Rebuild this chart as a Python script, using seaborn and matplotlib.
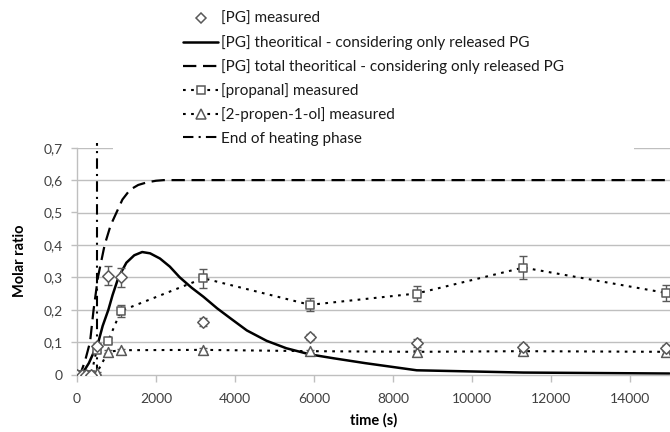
import matplotlib
matplotlib.use("Agg")
import matplotlib.pyplot as plt
from matplotlib.lines import Line2D
from matplotlib.patches import Rectangle
from matplotlib.ticker import FuncFormatter, MultipleLocator
import seaborn as sns
import pandas as pd

sns.set_theme(style="white")
plt.rcParams["font.family"] = ["Lato", "DejaVu Sans"]

# Measured PG (diamonds)
pg_t = [0, 120, 240, 360, 500, 790, 1110, 3200, 5900, 8600, 11300, 14900]
pg_v = [0, 0, 0, 0, 0.088, 0.305, 0.300, 0.163, 0.115, 0.097, 0.085, 0.082]
pg_err = [0.004, 0.004, 0.004, 0.004, 0.008, 0.030, 0.030, 0.012, 0.010, 0.012, 0.010, 0.010]

# Measured propanal (squares)
prop_t = [0, 120, 240, 360, 500, 790, 1110, 3200, 5900, 8600, 11300, 14900]
prop_v = [0, 0, 0, 0, 0.077, 0.104, 0.196, 0.297, 0.215, 0.250, 0.330, 0.252]
prop_err = [0.004, 0.004, 0.004, 0.004, 0.008, 0.008, 0.020, 0.030, 0.020, 0.022, 0.035, 0.025]

# Measured 2-propen-1-ol (triangles)
allyl_t = [0, 120, 240, 360, 500, 790, 1110, 3200, 5900, 8600, 11300, 14900]
allyl_v = [0, 0, 0, 0, 0.005, 0.070, 0.075, 0.076, 0.072, 0.070, 0.072, 0.070]
allyl_err = [0.003, 0.003, 0.003, 0.003, 0.003, 0.005, 0.005, 0.005, 0.005, 0.006, 0.006, 0.006]

# Theoretical PG considering only released PG
theo_t = [0, 120, 300, 540, 650, 795, 900, 1050, 1250, 1450, 1650, 1850, 2100,
          2350, 2600, 2900, 3200, 3550, 3900, 4300, 4800, 5300, 5900, 6500,
          7300, 8600, 11300, 15000]
theo_v = [0, 0, 0.035, 0.10, 0.15, 0.20, 0.245, 0.30, 0.345, 0.368, 0.378,
          0.374, 0.358, 0.333, 0.300, 0.268, 0.240, 0.204, 0.172, 0.136, 0.104,
          0.081, 0.062, 0.050, 0.035, 0.013, 0.006, 0.003]

# Total theoretical PG
total_t = [0, 80, 200, 330, 420, 530, 700, 850, 1000, 1150, 1340, 1550, 1770,
           2000, 2200, 2500, 15000]
total_v = [0, 0, 0.04, 0.10, 0.20, 0.30, 0.40, 0.46, 0.50, 0.54, 0.57, 0.585,
           0.593, 0.598, 0.60, 0.60, 0.60]

# End of heating phase
heat_end_t = 500
heat_line_v = [0, 0.715]

x_ticks = [0, 2000, 4000, 6000, 8000, 10000, 12000, 14000]

labels = [
    "[PG] measured",
    "[PG] theoritical - considering only released PG",
    "[PG] total theoritical - considering only released PG",
    "[propanal] measured",
    "[2-propen-1-ol] measured",
    "End of heating phase",
]

MARK = "#595959"
GRID = "#bfbfbf"
TXT = "#404040"
DOT = (0, (1.3, 2.6))
DASH = (0, (6, 3))
DASHDOT = (0, (5, 2.5, 1, 2.5))

fig = plt.figure(figsize=(6.70, 4.32), dpi=100)
ax = fig.add_axes([77 / 670, (432 - 374.5) / 432, 592.5 / 670, 226.8 / 432])

for yv in [0.1, 0.2, 0.3, 0.4, 0.5, 0.6, 0.7]:
    ax.axhline(yv, color=GRID, lw=1.0, zorder=0)

# Theoretical curves
sns.lineplot(x=total_t, y=total_v, ax=ax, color="black", lw=1.6,
             linestyle=DASH, sort=False, zorder=2)
sns.lineplot(x=theo_t, y=theo_v, ax=ax, color="black", lw=1.8,
             sort=False, zorder=2)

# Vertical marker for the end of heating
ax.plot([heat_end_t, heat_end_t], heat_line_v, color="black", lw=1.5,
        linestyle=DASHDOT, clip_on=False, zorder=2)

# Measured series with error bars
df_prop = pd.DataFrame({"t": prop_t, "v": prop_v})
df_allyl = pd.DataFrame({"t": allyl_t, "v": allyl_v})
df_pg = pd.DataFrame({"t": pg_t, "v": pg_v})

sns.lineplot(data=df_allyl, x="t", y="v", ax=ax, color="black", lw=1.5,
             linestyle=DOT, zorder=3)
sns.lineplot(data=df_prop, x="t", y="v", ax=ax, color="black", lw=1.5,
             linestyle=DOT, zorder=3)

for t, v, e in [(allyl_t, allyl_v, allyl_err), (prop_t, prop_v, prop_err),
                (pg_t, pg_v, pg_err)]:
    ax.errorbar(t, v, yerr=e, fmt="none", ecolor=MARK, elinewidth=1.0,
                capsize=3, capthick=1.0, zorder=4)

sns.scatterplot(data=df_allyl, x="t", y="v", ax=ax, marker="^", s=50,
                facecolor="white", edgecolor=MARK, linewidth=1.1, zorder=5)
sns.scatterplot(data=df_prop, x="t", y="v", ax=ax, marker="s", s=38,
                facecolor="white", edgecolor=MARK, linewidth=1.1, zorder=5)
sns.scatterplot(data=df_pg, x="t", y="v", ax=ax, marker="D", s=34,
                facecolor="white", edgecolor=MARK, linewidth=1.1, zorder=6)

ax.set_xlim(0, 15000)
ax.set_ylim(0, 0.7)
ax.set_xticks(x_ticks)
ax.yaxis.set_major_locator(MultipleLocator(0.1))
ax.yaxis.set_major_formatter(
    FuncFormatter(lambda v, p: "0" if abs(v) < 1e-9 else f"{v:.1f}".replace(".", ",")))

for s in ["top", "right"]:
    ax.spines[s].set_visible(False)
for s in ["left", "bottom"]:
    ax.spines[s].set_color(GRID)
    ax.spines[s].set_linewidth(1.0)
ax.tick_params(axis="y", direction="out", length=4, width=1.0, color=GRID,
               pad=6, labelsize=10, labelcolor=TXT, left=True)
ax.tick_params(axis="x", direction="out", length=5, width=1.0, color=GRID,
               pad=8, labelsize=10, labelcolor=TXT, bottom=True)

ax.set_xlabel("time (s)", fontsize=10.5, fontweight="bold", color="black",
              labelpad=6)
ax.set_ylabel("Molar ratio", fontsize=10.5, fontweight="bold", color="black",
              labelpad=12)

# White panel behind the legend
fig.patches.append(Rectangle((113 / 670, (432 - 153) / 432), (634 - 113) / 670,
                             153 / 432, transform=fig.transFigure,
                             facecolor="white", edgecolor="none", zorder=3))

handles = [
    Line2D([], [], linestyle="none", marker="D", markersize=5.5,
           markerfacecolor="white", markeredgecolor=MARK, markeredgewidth=1.1),
    Line2D([], [], color="black", lw=1.8),
    Line2D([], [], color="black", lw=1.6, linestyle=DASH),
    Line2D([], [], color="black", lw=1.5, linestyle=DOT, marker="s",
           markersize=5.5, markerfacecolor="white", markeredgecolor=MARK,
           markeredgewidth=1.1),
    Line2D([], [], color="black", lw=1.5, linestyle=DOT, marker="^",
           markersize=6.5, markerfacecolor="white", markeredgecolor=MARK,
           markeredgewidth=1.1),
    Line2D([], [], color="black", lw=1.5, linestyle=DASHDOT),
]
leg = fig.legend(handles, labels, loc="upper left",
                 bbox_to_anchor=(183 / 670, 1 - 12 / 432), frameon=False,
                 fontsize=11, handlelength=2.3, handletextpad=0.2,
                 labelspacing=0.6, borderpad=0, borderaxespad=0)
leg.set_zorder(4)
for t in leg.get_texts():
    t.set_color("#1a1a1a")

fig.savefig("out.png", dpi=100)
